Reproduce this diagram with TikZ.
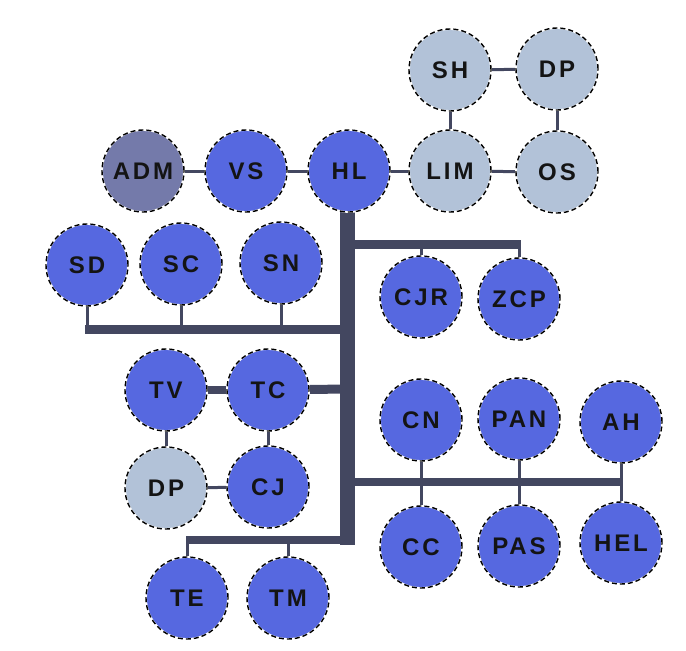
\documentclass[tikz,border=0pt]{standalone}
\usepackage{fontspec}
\setmainfont{Liberation Sans}
\newfontfamily\lblfont{Liberation Sans Bold}[LetterSpace=12]
\usetikzlibrary{backgrounds}
\definecolor{nblue}{HTML}{5668E0}
\definecolor{nadm}{HTML}{747AAA}
\definecolor{nlight}{HTML}{B2C2D8}
\definecolor{conn}{HTML}{434760}
\tikzset{
  circ/.style={circle, minimum size=82pt, inner sep=0pt, draw=white, line width=1.8pt,
    font=\lblfont\fontsize{24}{24}\selectfont, text=black!92,
    postaction={draw=black, line width=1.4pt, dash pattern=on 5pt off 3pt}},
  bnode/.style={circ, fill=nblue},
  anode/.style={circ, fill=nadm},
  lnode/.style={circ, fill=nlight},
  thinc/.style={draw=conn, line width=3pt},
  bar/.style={draw=conn, line width=9pt},
  trunkbar/.style={draw=conn, line width=15pt}
}
\begin{document}
\begin{tikzpicture}[x=1pt,y=-1pt]
\useasboundingbox (0,0) rectangle (686,651);
% nodes
\node[anode] (ADM) at (143,171) {ADM};
\node[bnode] (VS) at (246,171) {VS};
\node[bnode] (HL) at (349,171) {HL};
\node[lnode] (LIM) at (450,171) {LIM};
\node[lnode] (OS) at (557,172) {OS};
\node[lnode] (SH) at (450,70) {SH};
\node[lnode] (DPt) at (557,69) {DP};
\node[bnode] (SD) at (87,265) {SD};
\node[bnode] (SC) at (181,264) {SC};
\node[bnode] (SN) at (281,263) {SN};
\node[bnode] (CJR) at (421,297) {CJR};
\node[bnode] (ZCP) at (519,299) {ZCP};
\node[bnode] (TV) at (166,390) {TV};
\node[bnode] (TC) at (268,390) {TC};
\node[lnode] (DPl) at (166,488) {DP};
\node[bnode] (CJ) at (268,487) {CJ};
\node[bnode] (TE) at (187,598) {TE};
\node[bnode] (TM) at (288,598) {TM};
\node[bnode] (CN) at (421,420) {CN};
\node[bnode] (PAN) at (519,419) {PAN};
\node[bnode] (AH) at (621,422) {AH};
\node[bnode] (CC) at (421,547) {CC};
\node[bnode] (PAS) at (519,546) {PAS};
\node[bnode] (HEL) at (621,543) {HEL};
% junction coordinates
\coordinate (tTop) at (347,171);
\coordinate (tBot) at (347,544.5);
\coordinate (jA) at (347,244);
\coordinate (eA) at (520.5,244);
\coordinate (jB) at (347,329);
\coordinate (eB) at (85,329);
\coordinate (jC) at (347,389);
\coordinate (jD) at (347,482);
\coordinate (eD) at (622.5,482);
\coordinate (jE) at (347,540);
\coordinate (eE) at (185.5,540);
\begin{scope}[on background layer]
  \draw[trunkbar] (tTop) -- (tBot);
  \draw[bar] (jA) -- (eA);
  \draw[thinc] (CJR) -- (CJR |- jA);
  \draw[thinc] (ZCP) -- (ZCP |- jA);
  \draw[bar] (jB) -- (eB);
  \draw[thinc] (SD) -- (SD |- jB);
  \draw[thinc] (SC) -- (SC |- jB);
  \draw[thinc] (SN) -- (SN |- jB);
  \draw[bar] (TC) -- (jC);
  \draw[draw=conn, line width=8pt] (TV) -- (TC);
  \draw[thinc] (TV) -- (DPl);
  \draw[thinc] (TC) -- (CJ);
  \draw[thinc] (DPl) -- (CJ);
  \draw[draw=conn, line width=8pt] (jD) -- (eD);
  \draw[thinc] (CN) -- (CC);
  \draw[thinc] (PAN) -- (PAS);
  \draw[thinc] (AH) -- (AH |- HEL);
  \draw[draw=conn, line width=8pt] (jE) -- (eE);
  \draw[thinc] (TE) -- (TE |- jE);
  \draw[thinc] (TM) -- (TM |- jE);
  \draw[thinc] (ADM) -- (VS);
  \draw[thinc] (VS) -- (HL);
  \draw[thinc] (HL) -- (LIM);
  \draw[thinc] (LIM) -- (OS);
  \draw[thinc] (SH) -- (DPt);
  \draw[thinc] (SH) -- (LIM);
  \draw[thinc] (DPt) -- (OS);
\end{scope}
\end{tikzpicture}
\end{document}
